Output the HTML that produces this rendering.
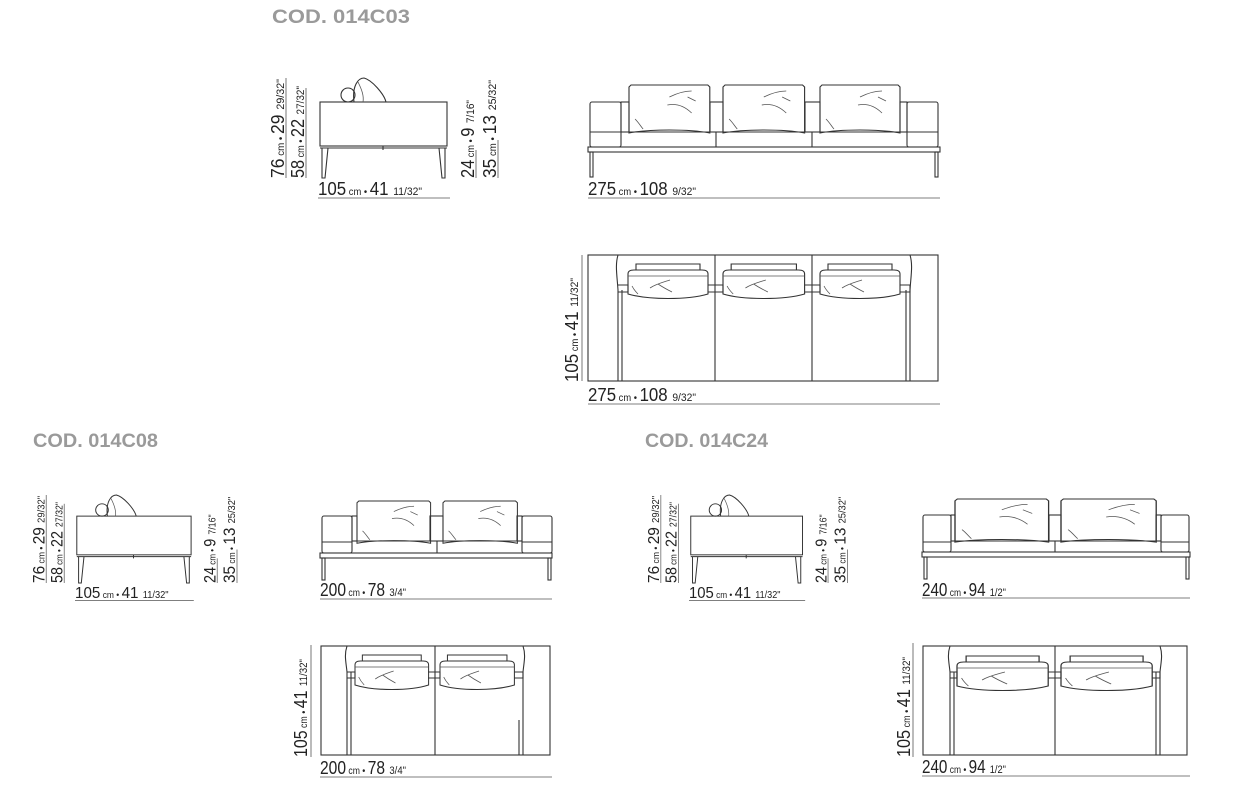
<!DOCTYPE html>
<html><head><meta charset="utf-8"><style>
html,body{margin:0;padding:0;background:#fff;}
svg{display:block;}
.h{font-family:"Liberation Sans",sans-serif;font-weight:bold;font-size:19px;fill:#9a9a9a;}
.d{font-family:"Liberation Sans Narrow","Liberation Sans",sans-serif;fill:#222;}
.s{fill:none;stroke:#333;stroke-width:1.1;}
.t{fill:none;stroke:#555;stroke-width:0.8;}
</style></head><body>
<svg width="1236" height="795" viewBox="0 0 1236 795" xmlns="http://www.w3.org/2000/svg">
<defs>
<g id="side">
  <rect class="s" x="52" y="24" width="127" height="44"/>
  <line class="s" x1="52" y1="70" x2="179" y2="70"/>
  <path class="s" d="M54 70 L54 100 L57 100 L60 70"/>
  <path class="s" d="M177 70 L177 100 L174 100 L171 70"/>
  <line class="s" x1="115" y1="68" x2="115" y2="72"/>
  <circle class="s" cx="80" cy="17" r="7"/>
  <path class="s" d="M86 24 C84 8 90 0 96 0 C104 2 116 16 118 24"/>
  <path class="t" d="M90 4 C94 12 96 18 95 24"/>
  <text class="d" transform="translate(16,100) rotate(-90)" textLength="99" lengthAdjust="spacingAndGlyphs"><tspan font-size="18">76</tspan><tspan font-size="10"> cm • </tspan><tspan font-size="18">29 </tspan><tspan font-size="11">29/32"</tspan></text>
  <line class="t" x1="18" y1="0" x2="18" y2="100"/>
  <text class="d" transform="translate(36,100) rotate(-90)" textLength="92" lengthAdjust="spacingAndGlyphs"><tspan font-size="18">58</tspan><tspan font-size="10"> cm • </tspan><tspan font-size="18">22 </tspan><tspan font-size="11">27/32"</tspan></text>
  <line class="t" x1="38" y1="10" x2="38" y2="100"/>
  <text class="d" transform="translate(206,100) rotate(-90)" textLength="78" lengthAdjust="spacingAndGlyphs"><tspan font-size="18">24</tspan><tspan font-size="10"> cm • </tspan><tspan font-size="18">9 </tspan><tspan font-size="11">7/16"</tspan></text>
  <line class="t" x1="208" y1="72" x2="208" y2="100"/>
  <text class="d" transform="translate(228,100) rotate(-90)" textLength="98" lengthAdjust="spacingAndGlyphs"><tspan font-size="18">35</tspan><tspan font-size="10"> cm • </tspan><tspan font-size="18">13 </tspan><tspan font-size="11">25/32"</tspan></text>
  <line class="t" x1="230" y1="62" x2="230" y2="100"/>
  <text class="d" x="50" y="117" textLength="104" lengthAdjust="spacingAndGlyphs"><tspan font-size="18">105</tspan><tspan font-size="10"> cm • </tspan><tspan font-size="18">41 </tspan><tspan font-size="11">11/32"</tspan></text>
  <line class="t" x1="50" y1="120" x2="182" y2="120"/>
</g>
<g id="bc">
  <path class="s" d="M0 2 L2 0 L78 0 L80 2 L80 48 C60 44 20 44 0 48 Z"/>
  <path class="t" d="M40 12 C48 8 56 6 62 6 M38 20 C48 18 56 22 62 28 M58 12 L66 16 M6 34 C10 38 12 42 14 44"/>
</g>
<g id="pc">
  <path class="s" d="M8 0 L72 0 L72 6 L8 6 Z"/>
  <path class="s" d="M0 10 C0 7 2 6 6 6 L74 6 C78 6 80 7 80 10 L80 30 C60 36 20 36 0 30 Z"/>
  <path class="t" d="M0 12 L80 12 M22 24 C28 20 36 18 42 16 M30 20 C36 24 40 26 44 28 M4 22 C6 26 8 28 10 30"/>
</g>
</defs>

<text class="h" x="272" y="23" textLength="138" lengthAdjust="spacingAndGlyphs">COD. 014C03</text>
<text class="h" x="33" y="447" textLength="125" lengthAdjust="spacingAndGlyphs">COD. 014C08</text>
<text class="h" x="645" y="447" textLength="123" lengthAdjust="spacingAndGlyphs">COD. 014C24</text>

<use href="#side" transform="translate(268,78)"/>
<use href="#side" transform="translate(30,495) scale(0.9,0.88)"/>
<use href="#side" transform="translate(645,495) scale(0.88,0.88)"/>

<!-- 275 front -->
<rect class="s" x="590" y="102" width="31" height="45" rx="2"/>
<rect class="s" x="907" y="102" width="31" height="45" rx="2"/>
<line class="s" x1="590" y1="132" x2="621" y2="132"/>
<line class="s" x1="907" y1="132" x2="938" y2="132"/>
<path class="s" d="M621 132 L907 132 M621 147 L907 147 M716 132 L716 147 M812 132 L812 147"/>
<rect class="s" x="588" y="147" width="352" height="5"/>
<rect class="s" x="590" y="152" width="3" height="25"/>
<rect class="s" x="935" y="152" width="3" height="25"/>
<rect class="s" x="621" y="102" width="8" height="30"/>
<rect class="s" x="900" y="102" width="7" height="30"/>
<rect class="s" x="710" y="102" width="13" height="30"/>
<rect class="s" x="805" y="102" width="15" height="30"/>
<use href="#bc" transform="translate(629,85) scale(1.01,1)"/>
<use href="#bc" transform="translate(723,85) scale(1.02,1)"/>
<use href="#bc" transform="translate(820,85) scale(1,1)"/>
<text class="d" x="588" y="195" textLength="108" lengthAdjust="spacingAndGlyphs"><tspan font-size="18">275</tspan><tspan font-size="10"> cm • </tspan><tspan font-size="18">108 </tspan><tspan font-size="11">9/32"</tspan></text>
<line class="t" x1="588" y1="198" x2="940" y2="198"/>

<!-- 275 plan -->
<rect class="s" x="588" y="255" width="350" height="126"/>
<path class="s" d="M618 255 C615 265 617 275 618 290 L618 381 M910 255 C913 265 911 275 910 290 L910 381 M715 255 L715 381 M812 255 L812 381"/>
<path class="s" d="M622 290 L622 381 M906 290 L906 381"/>
<use href="#pc" transform="translate(628,264)"/>
<use href="#pc" transform="translate(723,264) scale(1.02,1)"/>
<use href="#pc" transform="translate(820,264)"/>
<path class="s" d="M618 285 L628 285 L628 292 L618 292 M708 285 L723 285 L723 292 L708 292 M805 285 L820 285 L820 292 L805 292 M900 285 L910 285 L910 292 L900 292"/>
<line class="t" x1="582" y1="255" x2="582" y2="381"/>
<text class="d" transform="translate(578,382) rotate(-90)" textLength="104" lengthAdjust="spacingAndGlyphs"><tspan font-size="18">105</tspan><tspan font-size="10"> cm • </tspan><tspan font-size="18">41 </tspan><tspan font-size="11">11/32"</tspan></text>
<text class="d" x="588" y="401" textLength="108" lengthAdjust="spacingAndGlyphs"><tspan font-size="18">275</tspan><tspan font-size="10"> cm • </tspan><tspan font-size="18">108 </tspan><tspan font-size="11">9/32"</tspan></text>
<line class="t" x1="588" y1="404" x2="940" y2="404"/>

<!-- 200 front -->
<rect class="s" x="322" y="516" width="30" height="37" rx="2"/>
<rect class="s" x="522" y="516" width="30" height="37" rx="2"/>
<path class="s" d="M322 542 L352 542 M522 542 L552 542 M352 541 L522 541 M437 541 L437 553"/>
<rect class="s" x="352" y="516" width="5" height="25"/>
<rect class="s" x="517" y="516" width="5" height="25"/>
<rect class="s" x="430" y="516" width="13" height="25"/>
<rect class="s" x="320" y="553" width="232" height="5"/>
<rect class="s" x="322" y="558" width="3" height="22"/>
<rect class="s" x="548" y="558" width="3" height="22"/>
<use href="#bc" transform="translate(357,501) scale(0.92,0.88)"/>
<use href="#bc" transform="translate(443,501) scale(0.93,0.88)"/>
<text class="d" x="320" y="596" textLength="86" lengthAdjust="spacingAndGlyphs"><tspan font-size="18">200</tspan><tspan font-size="10"> cm • </tspan><tspan font-size="18">78 </tspan><tspan font-size="11">3/4"</tspan></text>
<line class="t" x1="320" y1="599" x2="552" y2="599"/>

<!-- 200 plan -->
<rect class="s" x="321" y="646" width="229" height="109"/>
<path class="s" d="M347 646 C344 655 346 662 347 672 L347 755 M523 646 C526 655 524 662 523 672 L523 755 M435 646 L435 755 M351 672 L351 755 M519 720 L519 755"/>
<use href="#pc" transform="translate(355,655) scale(0.92,1)"/>
<use href="#pc" transform="translate(440,655) scale(0.93,1)"/>
<path class="s" d="M347 672 L355 672 L355 678 L347 678 M428 672 L440 672 L440 678 L428 678 M514 672 L523 672 L523 678 L514 678"/>
<line class="t" x1="311" y1="645" x2="311" y2="757"/>
<text class="d" transform="translate(307,757) rotate(-90)" textLength="98" lengthAdjust="spacingAndGlyphs"><tspan font-size="18">105</tspan><tspan font-size="10"> cm • </tspan><tspan font-size="18">41 </tspan><tspan font-size="11">11/32"</tspan></text>
<text class="d" x="320" y="774" textLength="86" lengthAdjust="spacingAndGlyphs"><tspan font-size="18">200</tspan><tspan font-size="10"> cm • </tspan><tspan font-size="18">78 </tspan><tspan font-size="11">3/4"</tspan></text>
<line class="t" x1="320" y1="777" x2="552" y2="777"/>

<!-- 240 front -->
<rect class="s" x="923" y="515" width="28" height="37" rx="2"/>
<rect class="s" x="1161" y="515" width="28" height="37" rx="2"/>
<path class="s" d="M923 542 L951 542 M1161 542 L1189 542 M951 541 L1161 541 M1055 541 L1055 552"/>
<rect class="s" x="951" y="515" width="4" height="26"/>
<rect class="s" x="1156" y="515" width="5" height="26"/>
<rect class="s" x="1049" y="515" width="12" height="26"/>
<rect class="s" x="922" y="552" width="268" height="5"/>
<rect class="s" x="924" y="557" width="3" height="22"/>
<rect class="s" x="1186" y="557" width="3" height="22"/>
<use href="#bc" transform="translate(955,499) scale(1.17,0.9)"/>
<use href="#bc" transform="translate(1061,499) scale(1.19,0.9)"/>
<text class="d" x="922" y="596" textLength="84" lengthAdjust="spacingAndGlyphs"><tspan font-size="18">240</tspan><tspan font-size="10"> cm • </tspan><tspan font-size="18">94 </tspan><tspan font-size="11">1/2"</tspan></text>
<line class="t" x1="922" y1="598" x2="1190" y2="598"/>

<!-- 240 plan -->
<rect class="s" x="923" y="646" width="264" height="109"/>
<path class="s" d="M950 646 C947 655 949 662 950 672 L950 755 M1160 646 C1163 655 1161 662 1160 672 L1160 755 M1055 646 L1055 755 M954 672 L954 755 M1156 672 L1156 755"/>
<use href="#pc" transform="translate(957,656) scale(1.14,1)"/>
<use href="#pc" transform="translate(1061,656) scale(1.14,1)"/>
<path class="s" d="M950 672 L957 672 L957 678 L950 678 M1048 672 L1061 672 L1061 678 L1048 678 M1152 672 L1160 672 L1160 678 L1152 678"/>
<line class="t" x1="913" y1="643" x2="913" y2="757"/>
<text class="d" transform="translate(910,757) rotate(-90)" textLength="100" lengthAdjust="spacingAndGlyphs"><tspan font-size="18">105</tspan><tspan font-size="10"> cm • </tspan><tspan font-size="18">41 </tspan><tspan font-size="11">11/32"</tspan></text>
<text class="d" x="922" y="773" textLength="84" lengthAdjust="spacingAndGlyphs"><tspan font-size="18">240</tspan><tspan font-size="10"> cm • </tspan><tspan font-size="18">94 </tspan><tspan font-size="11">1/2"</tspan></text>
<line class="t" x1="922" y1="776" x2="1190" y2="776"/>
</svg>
</body></html>
